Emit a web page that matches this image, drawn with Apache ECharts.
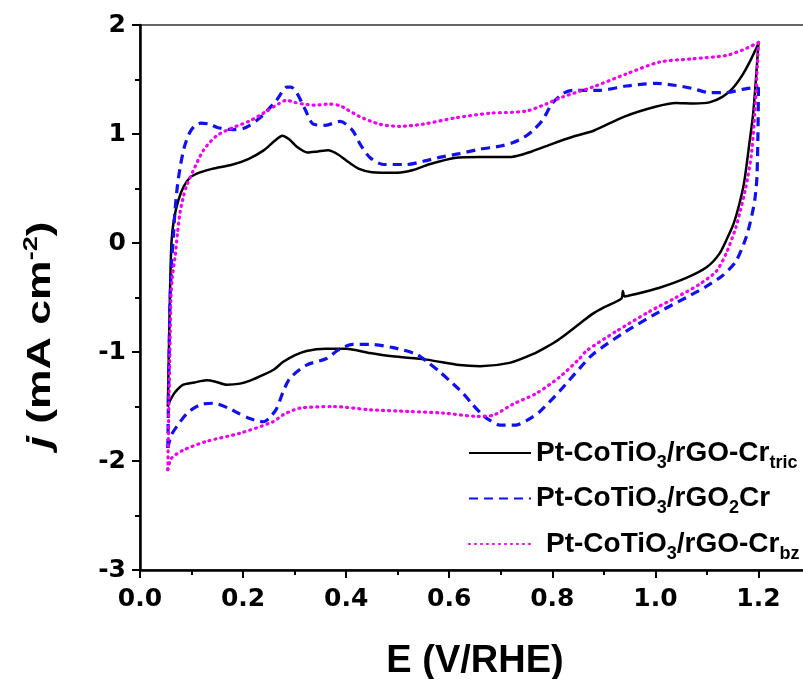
<!DOCTYPE html>
<html>
<head>
<meta charset="utf-8">
<script src="https://cdn.jsdelivr.net/npm/echarts@6/dist/echarts.min.js"></script>
<style>
  html, body { margin: 0; padding: 0; background: #fff; overflow: hidden; }
  #frame { width: 803px; height: 679px; overflow: hidden; position: relative; }
  #chart { width: 810px; height: 679px; position: absolute; left: 0; top: 0; }
</style>
</head>
<body>
<div id="frame"><div id="chart"></div></div>
<script>
// Cyclic voltammograms: forward (anodic) and reverse (cathodic) sweeps, [E (V/RHE), j (mA cm-2)]
const seriesNames = ['Pt-CoTiO3/rGO-Cr tric', 'Pt-CoTiO3/rGO2Cr', 'Pt-CoTiO3/rGO-Cr bz'];

const tricForward = [
  [0.054,-1.50],[0.056,-1.0],[0.058,-0.5],[0.061,0.0],[0.066,0.22],[0.075,0.40],[0.085,0.52],
  [0.097,0.60],[0.115,0.645],[0.14,0.68],[0.18,0.72],[0.21,0.77],[0.24,0.85],[0.262,0.94],
  [0.276,0.985],[0.29,0.95],[0.305,0.88],[0.325,0.83],[0.345,0.84],[0.365,0.85],[0.385,0.81],
  [0.405,0.74],[0.425,0.68],[0.45,0.65],[0.50,0.645],[0.53,0.67],[0.56,0.72],[0.61,0.78],
  [0.66,0.79],[0.72,0.79],[0.76,0.84],[0.80,0.91],[0.84,0.975],[0.88,1.03],[0.94,1.16],
  [1.00,1.25],[1.04,1.285],[1.075,1.28],[1.105,1.29],[1.13,1.34],[1.15,1.42],[1.17,1.55],
  [1.185,1.68],[1.2,1.83]
];
const tricReverse = [
  [1.2,1.83],[1.19,1.2],[1.182,0.9],[1.172,0.55],[1.163,0.36],[1.152,0.18],[1.14,0.05],
  [1.124,-0.10],[1.1,-0.22],[1.06,-0.32],[1.008,-0.41],[0.96,-0.47],[0.94,-0.49],[0.937,-0.44],
  [0.934,-0.51],[0.90,-0.59],[0.878,-0.65],[0.853,-0.74],[0.814,-0.88],[0.79,-0.95],[0.762,-1.02],
  [0.717,-1.10],[0.66,-1.13],[0.62,-1.12],[0.556,-1.07],[0.49,-1.04],[0.446,-1.01],[0.40,-0.97],
  [0.36,-0.97],[0.323,-0.99],[0.30,-1.03],[0.278,-1.09],[0.26,-1.16],[0.239,-1.21],[0.215,-1.26],
  [0.194,-1.29],[0.168,-1.30],[0.145,-1.27],[0.129,-1.26],[0.105,-1.28],[0.084,-1.30],
  [0.068,-1.37],[0.058,-1.45],[0.054,-1.50]
];

const rgo2Forward = [
  [0.054,-1.88],[0.056,-1.2],[0.058,-0.6],[0.061,-0.2],[0.065,0.08],[0.068,0.30],[0.072,0.50],
  [0.078,0.70],[0.086,0.88],[0.095,1.0],[0.105,1.07],[0.118,1.10],[0.135,1.09],[0.15,1.06],
  [0.18,1.04],[0.20,1.05],[0.213,1.08],[0.228,1.13],[0.24,1.18],[0.265,1.31],[0.285,1.43],
  [0.293,1.43],[0.304,1.38],[0.32,1.23],[0.336,1.09],[0.36,1.08],[0.388,1.115],[0.40,1.09],
  [0.413,1.03],[0.428,0.90],[0.446,0.785],[0.472,0.72],[0.517,0.72],[0.55,0.75],[0.581,0.785],
  [0.62,0.82],[0.659,0.86],[0.70,0.89],[0.723,0.92],[0.745,0.97],[0.762,1.03],[0.78,1.12],
  [0.80,1.28],[0.82,1.37],[0.839,1.40],[0.891,1.40],[0.943,1.44],[0.982,1.46],[1.0,1.465],
  [1.04,1.445],[1.07,1.42],[1.105,1.38],[1.137,1.38],[1.169,1.41],[1.2,1.43]
];
const rgo2Reverse = [
  [1.2,1.43],[1.199,1.0],[1.197,0.6],[1.193,0.40],[1.187,0.25],[1.176,0.05],[1.156,-0.17],
  [1.13,-0.30],[1.098,-0.40],[1.06,-0.50],[1.008,-0.63],[0.943,-0.81],[0.879,-1.02],[0.853,-1.15],
  [0.814,-1.36],[0.775,-1.55],[0.75,-1.63],[0.73,-1.67],[0.698,-1.67],[0.68,-1.63],[0.665,-1.58],
  [0.645,-1.48],[0.627,-1.38],[0.60,-1.26],[0.581,-1.18],[0.56,-1.10],[0.536,-1.02],[0.491,-0.96],
  [0.446,-0.93],[0.413,-0.93],[0.385,-0.98],[0.362,-1.06],[0.323,-1.12],[0.291,-1.24],
  [0.278,-1.36],[0.265,-1.52],[0.25,-1.61],[0.239,-1.64],[0.213,-1.61],[0.19,-1.56],[0.174,-1.52],
  [0.142,-1.47],[0.12,-1.48],[0.103,-1.52],[0.09,-1.57],[0.078,-1.64],[0.061,-1.76],[0.054,-1.88]
];

const bzForward = [
  [0.054,-2.08],[0.056,-1.5],[0.058,-1.0],[0.06,-0.5],[0.063,-0.3],[0.068,-0.13],[0.073,0.10],
  [0.078,0.29],[0.084,0.42],[0.09,0.52],[0.103,0.66],[0.123,0.85],[0.149,0.985],[0.181,1.06],
  [0.213,1.12],[0.246,1.21],[0.27,1.28],[0.284,1.31],[0.30,1.29],[0.316,1.275],[0.34,1.265],
  [0.368,1.275],[0.388,1.26],[0.40,1.23],[0.426,1.16],[0.465,1.09],[0.504,1.07],[0.549,1.09],
  [0.614,1.15],[0.678,1.19],[0.749,1.21],[0.788,1.275],[0.82,1.34],[0.878,1.43],[0.943,1.55],
  [1.008,1.66],[1.072,1.69],[1.137,1.72],[1.169,1.77],[1.2,1.84]
];
const bzReverse = [
  [1.2,1.84],[1.193,1.2],[1.186,0.8],[1.175,0.5],[1.165,0.30],[1.156,0.14],[1.137,-0.10],
  [1.118,-0.26],[1.085,-0.38],[1.04,-0.50],[0.988,-0.63],[0.924,-0.81],[0.866,-0.99],[0.853,-1.06],
  [0.814,-1.23],[0.769,-1.38],[0.723,-1.48],[0.685,-1.58],[0.653,-1.59],[0.588,-1.56],
  [0.523,-1.545],[0.446,-1.53],[0.375,-1.50],[0.31,-1.515],[0.28,-1.57],[0.258,-1.64],
  [0.194,-1.745],[0.129,-1.82],[0.084,-1.90],[0.061,-1.975],[0.054,-2.08]
];

// Axis scales
const xMin = 0, xMax = 1.3, xStep = 0.2;
const yMin = -3, yMax = 2, yStep = 1;

const FONT = '"Liberation Sans", Arial, Helvetica, sans-serif';
const TICK_FONT = '"DejaVu Sans", "Liberation Sans", sans-serif';

const styles = [
  { color: '#000000', type: 'solid', width: 2.5, cap: 'butt' },
  { color: '#1010f0', type: [9, 6], width: 3.2, cap: 'butt' },
  { color: '#f000f0', type: [1, 5], width: 3.2, cap: 'round' }
];

function loopSeries(name, data, st) {
  return {
    type: 'line', name: name, data: data,
    showSymbol: false, symbol: 'none', smooth: 0.25,
    lineStyle: { color: st.color, width: st.width, type: st.type, cap: st.cap },
    itemStyle: { color: st.color },
    animation: false, z: 3
  };
}

const legendRich = {
  a: { fontFamily: FONT, fontSize: 28, fontWeight: 'bold', color: '#000', lineHeight: 38 },
  s: { fontFamily: FONT, fontSize: 18, fontWeight: 'bold', color: '#000', lineHeight: 12, verticalAlign: 'bottom' },
  g: { width: 10, lineHeight: 38 }
};

const chart = echarts.init(document.getElementById('chart'));
chart.setOption({
  backgroundColor: '#fff',
  animation: false,
  grid: {
    left: 140, top: 25, right: 0, bottom: 109,
    outerBoundsMode: 'none', containLabel: false,
    show: true, borderColor: '#333', borderWidth: 1.6, backgroundColor: 'transparent'
  },
  xAxis: {
    type: 'value', min: xMin, max: xMax, interval: xStep,
    axisLine: { onZero: false, lineStyle: { color: '#000', width: 2.5 } },
    axisTick: { inside: false, length: 8, lineStyle: { color: '#000', width: 2 } },
    minorTick: { show: true, splitNumber: 2, length: 5, lineStyle: { color: '#000', width: 2 } },
    splitLine: { show: false },
    axisLabel: {
      fontFamily: TICK_FONT, fontSize: 25, fontWeight: 'bold', color: '#000', margin: 17,
      showMaxLabel: false,
      formatter: v => v.toFixed(1)
    },
    name: 'E (V/RHE)', nameLocation: 'middle', nameGap: 73,
    nameTextStyle: { fontFamily: FONT, fontSize: 38, fontWeight: 'bold', color: '#000' }
  },
  yAxis: {
    type: 'value', min: yMin, max: yMax, interval: yStep,
    axisLine: { onZero: false, lineStyle: { color: '#000', width: 2.5 } },
    axisTick: { inside: false, length: 8, lineStyle: { color: '#000', width: 2 } },
    minorTick: { show: true, splitNumber: 2, length: 5, lineStyle: { color: '#000', width: 2 } },
    splitLine: { show: false },
    axisLabel: { fontFamily: TICK_FONT, fontSize: 25, fontWeight: 'bold', color: '#000', margin: 14 }
  },
  legend: {
    orient: 'vertical', left: 463, top: 434, itemGap: 12.5,
    itemWidth: 62, itemHeight: 14,
    itemStyle: { opacity: 0, borderWidth: 0 },
    data: seriesNames,
    formatter: function (name) {
      if (name === seriesNames[0]) return '{a|Pt-CoTiO}{s|3}{a|/rGO-Cr}{s|tric}';
      if (name === seriesNames[1]) return '{a|Pt-CoTiO}{s|3}{a|/rGO}{s|2}{a|Cr}';
      return '{g|}{a|Pt-CoTiO}{s|3}{a|/rGO-Cr}{s|bz}';
    },
    textStyle: { rich: legendRich }
  },
  graphic: [{
    type: 'text', x: 41, y: 335, rotation: Math.PI / 2, scaleX: 1.35,
    style: {
      text: '{i|j}{n| (mA cm}{p|-2}{n|)}',
      align: 'center', verticalAlign: 'middle',
      rich: {
        i: { fontFamily: FONT, fontSize: 33, fontWeight: 'bold', fontStyle: 'italic', fill: '#000', lineHeight: 40 },
        n: { fontFamily: FONT, fontSize: 33, fontWeight: 'bold', fill: '#000', lineHeight: 40 },
        p: { fontFamily: FONT, fontSize: 20, fontWeight: 'bold', fill: '#000', lineHeight: 20, verticalAlign: 'top' }
      }
    }
  }],
  series: [
    loopSeries(seriesNames[0], tricForward, styles[0]),
    loopSeries(seriesNames[0], tricReverse, styles[0]),
    loopSeries(seriesNames[1], rgo2Forward, styles[1]),
    loopSeries(seriesNames[1], rgo2Reverse, styles[1]),
    loopSeries(seriesNames[2], bzForward, styles[2]),
    loopSeries(seriesNames[2], bzReverse, styles[2])
  ]
});
</script>
</body>
</html>
